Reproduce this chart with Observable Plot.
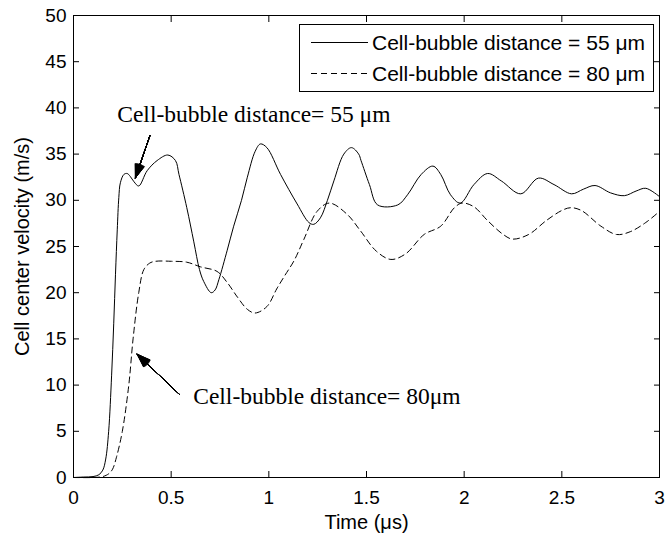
<!DOCTYPE html>
<html><head><meta charset="utf-8">
<script src="https://cdn.jsdelivr.net/npm/d3@7"></script>
<script src="https://cdn.jsdelivr.net/npm/@observablehq/plot@0.6"></script>
<style>
body{margin:0;background:#fff;}
#wrap{position:relative;width:668px;height:542px;background:#fff;}
#legend{position:absolute;left:0;top:0;pointer-events:none;}
#wrap g[aria-label="x-axis tick label"], #wrap g[aria-label="y-axis tick label"],
#wrap g[aria-label="x-axis tick label"] text, #wrap g[aria-label="y-axis tick label"] text{font-size:19px;}
#wrap g[aria-label="x-axis label"], #wrap g[aria-label="y-axis label"],
#wrap g[aria-label="x-axis label"] text, #wrap g[aria-label="y-axis label"] text{font-size:20px;}
</style></head><body><div id="wrap"></div>
<script>
// ---- data ----
const time55 = [0,0.05,0.1,0.13,0.15,0.165,0.18,0.195,0.206,0.215,0.224,0.232,0.24,0.258,0.275,0.29,0.31,0.334,0.377,0.428,0.483,0.522,0.54,0.58,0.616,0.645,0.667,0.705,0.725,0.744,0.787,0.82,0.86,0.89,0.93,0.957,0.99,1.06,1.145,1.205,1.23,1.264,1.3,1.333,1.384,1.423,1.46,1.472,1.515,1.557,1.66,1.71,1.78,1.84,1.88,1.93,1.98,2.05,2.12,2.19,2.29,2.38,2.46,2.55,2.61,2.67,2.75,2.82,2.88,2.93,3.0];
const vel55  = [0,0.05,0.1,0.3,0.8,2,5,11,16.7,22,26.8,30.3,31.9,32.8,32.9,32.6,32,31.55,33.2,34.3,34.9,34.3,32.8,29.2,25.5,22.5,21.2,20,20.3,21.4,24.6,27.2,30,32.5,35.3,36.1,35.7,32.8,29.6,27.6,27.4,28.1,30,32.1,35,35.7,35,34.3,31.7,29.5,29.5,30.6,32.8,33.7,32.8,30.6,29.7,31.7,32.9,32.1,30.7,32.4,31.7,30.7,31.2,31.6,30.8,30.5,31,31.3,30.4];

const time80 = [0,0.1,0.15,0.18,0.2,0.22,0.25,0.283,0.305,0.334,0.36,0.39,0.42,0.5,0.58,0.65,0.735,0.787,0.84,0.89,0.93,0.99,1.04,1.08,1.13,1.18,1.247,1.31,1.4,1.469,1.55,1.625,1.7,1.795,1.88,1.95,1.99,2.05,2.12,2.2,2.247,2.33,2.42,2.5,2.545,2.6,2.7,2.78,2.85,2.93,3.0];
const vel80  = [0,0,0.1,0.4,0.9,2.2,5,10,15,20,22.5,23.2,23.4,23.4,23.3,22.8,22.3,21.1,19.5,18.2,17.8,18.5,20.4,21.8,23.5,25.8,28.8,29.7,28.5,26.7,24.5,23.6,24.2,26.3,27.2,29.2,29.7,29.3,27.8,26.3,25.8,26.3,27.8,28.9,29.2,28.9,27.2,26.3,26.6,27.6,28.8];

const seriesNames = ["Cell-bubble distance = 55 μm", "Cell-bubble distance = 80 μm"];
const seriesDash  = [null, "6,4"];

const xTicks = [0,0.5,1,1.5,2,2.5,3];
const xTickLabels = ["0","0.5","1","1.5","2","2.5","3"];
const yTicks = [0,5,10,15,20,25,30,35,40,45,50];
const yTickLabels = ["0","5","10","15","20","25","30","35","40","45","50"];

const xTitle = "Time (μs)";
const yTitle = "Cell center velocity (m/s)";

// annotations (data units)
const annotTexts = ["Cell-bubble distance= 55 μm", "Cell-bubble distance= 80μm"];
const annotX = [0.224, 0.613];
const annotY = [38.5, 7.93];
const arrowFromX = [0.391, 0.543];
const arrowFromY = [36.99, 8.98];
const arrowToX = [0.317, 0.326];
const arrowToY = [32.43, 13.34];
const headAngles = [2,5,8,11,14,17,20,23,26,29,32,35,38,40];

// ---- build tables ----
const s55 = time55.map((t,i) => ({t, v: vel55[i]}));
const s80 = time80.map((t,i) => ({t, v: vel80[i]}));
const annots = annotTexts.map((text,i) => ({text, x: annotX[i], y: annotY[i], x1: arrowFromX[i], y1: arrowFromY[i], x2: arrowToX[i], y2: arrowToY[i]}));

const fmtX = d => xTickLabels[xTicks.indexOf(d)] ?? String(d);
const fmtY = d => yTickLabels[yTicks.indexOf(d)] ?? String(d);

const chart = Plot.plot({
  width: 668, height: 542,
  marginLeft: 73, marginRight: 9, marginTop: 15, marginBottom: 65,
  style: {fontFamily: "'Liberation Sans', Arial, sans-serif", fontSize: "19px", color: "black", background: "white", overflow: "visible"},
  x: {domain: [0, 3]},
  y: {domain: [0, 50]},
  marks: [
    Plot.frame({stroke: "black", strokeWidth: 1}),
    // tick labels + titles
    Plot.axisX({ticks: xTicks, tickFormat: fmtX, tickSize: 0, tickPadding: 13, label: xTitle, labelAnchor: "center", labelOffset: 51, labelArrow: false}),
    Plot.axisY({ticks: yTicks, tickFormat: fmtY, tickSize: 0, tickPadding: 7, label: yTitle, labelAnchor: "center", labelOffset: 59, labelArrow: false}),
    // inward ticks on all four sides
    Plot.axisX({ticks: xTicks, tickFormat: () => "", tickSize: -6, label: null, stroke: "black"}),
    Plot.axisX({anchor: "top", ticks: xTicks, tickFormat: () => "", tickSize: -6, label: null, stroke: "black"}),
    Plot.axisY({ticks: yTicks, tickFormat: () => "", tickSize: -6, label: null, stroke: "black"}),
    Plot.axisY({anchor: "right", ticks: yTicks, tickFormat: () => "", tickSize: -6, label: null, stroke: "black"}),
    // series
    Plot.line(s55, {x: "t", y: "v", stroke: "black", strokeWidth: 1, curve: "catmull-rom"}),
    Plot.line(s80, {x: "t", y: "v", stroke: "black", strokeWidth: 1, strokeDasharray: seriesDash[1], curve: "catmull-rom"}),
    // annotation arrows (stacked heads give a filled arrowhead)
    ...headAngles.map(h => Plot.arrow(annots, {x1: "x1", y1: "y1", x2: "x2", y2: "y2", stroke: "black", strokeWidth: 1, headLength: 21, headAngle: h})),
    Plot.text(annots, {x: "x", y: "y", text: "text", textAnchor: "start", lineAnchor: "bottom", fontFamily: "'Liberation Serif', 'Times New Roman', serif", fontSize: 23.5, fill: "black"})
  ]
});

const wrap = document.getElementById("wrap");
wrap.appendChild(chart);

// legend overlay
const ns = "http://www.w3.org/2000/svg";
const leg = document.createElementNS(ns, "svg");
leg.setAttribute("id", "legend");
leg.setAttribute("width", 668);
leg.setAttribute("height", 542);
const box = document.createElementNS(ns, "rect");
box.setAttribute("x", 299.5); box.setAttribute("y", 24.5);
box.setAttribute("width", 354); box.setAttribute("height", 67);
box.setAttribute("fill", "white"); box.setAttribute("stroke", "black"); box.setAttribute("stroke-width", 1);
leg.appendChild(box);
const rowY = [42.5, 73.5];
seriesNames.forEach((name, i) => {
  const ln = document.createElementNS(ns, "line");
  ln.setAttribute("x1", 311); ln.setAttribute("x2", 368);
  ln.setAttribute("y1", rowY[i]); ln.setAttribute("y2", rowY[i]);
  ln.setAttribute("stroke", "black"); ln.setAttribute("stroke-width", 1);
  if (seriesDash[i]) ln.setAttribute("stroke-dasharray", seriesDash[i]);
  leg.appendChild(ln);
  const tx = document.createElementNS(ns, "text");
  tx.setAttribute("x", 372); tx.setAttribute("y", rowY[i]);
  tx.setAttribute("dy", "0.35em");
  tx.setAttribute("font-family", "'Liberation Sans', Arial, sans-serif");
  tx.setAttribute("font-size", 21);
  tx.textContent = name;
  leg.appendChild(tx);
});
wrap.appendChild(leg);
</script></body></html>
